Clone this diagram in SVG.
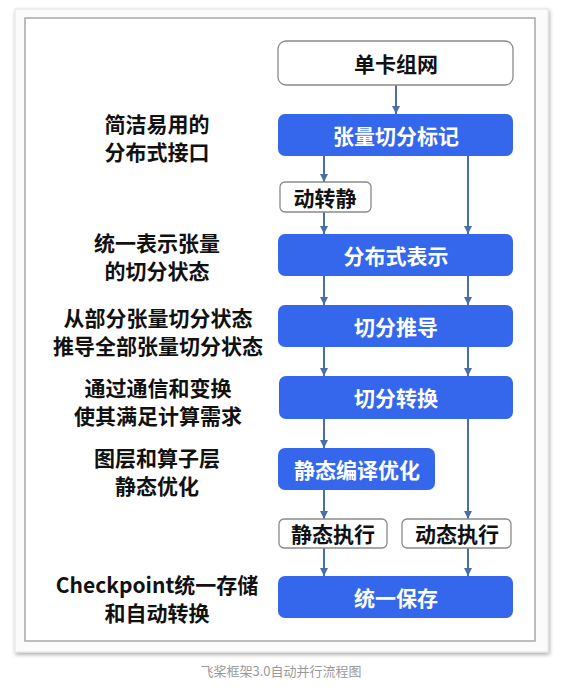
<svg xmlns="http://www.w3.org/2000/svg" width="564" height="690" viewBox="0 0 564 690">
<defs>
<filter id="sh" x="-5%" y="-5%" width="110%" height="110%">
<feGaussianBlur in="SourceAlpha" stdDeviation="2"/>
<feOffset dx="1" dy="2"/>
<feComponentTransfer><feFuncA type="linear" slope="0.35"/></feComponentTransfer>
<feMerge><feMergeNode/><feMergeNode in="SourceGraphic"/></feMerge>
</filter>
<marker id="ah" viewBox="0 0 10 10" refX="10" refY="5" markerWidth="4" markerHeight="4" orient="auto" markerUnits="strokeWidth">
<path d="M0,0 L10,5 L0,10 z" fill="#4a6fa8"/>
</marker>
</defs>
<style>
.lbl{font-family:"Noto Sans CJK SC","Noto Sans",sans-serif;font-weight:bold;font-size:21px;text-anchor:middle;dominant-baseline:central;fill:#111}
.wt{fill:#fff}
.blue{fill:#3467ec}
.white{fill:#fff;stroke:#8a8a8a;stroke-width:1.3}
.cn line{stroke:#4a6fa8;stroke-width:2;marker-end:url(#ah)}
.cap{font-family:"Noto Sans CJK SC","Noto Sans",sans-serif;font-size:13px;text-anchor:middle;dominant-baseline:central;fill:#999}
</style>
<rect width="564" height="690" fill="#fff"/>
<rect x="15" y="9" width="533" height="643" fill="#fbfbfb" stroke="#e4e4e4" stroke-width="1" filter="url(#sh)"/>
<rect x="25" y="18" width="510" height="623" fill="#fff" stroke="#a8a8a8" stroke-width="1.5"/>

<g id="labels">
<text class="lbl" x="157" y="123">简洁易用的</text>
<text class="lbl" x="157" y="151">分布式接口</text>
<text class="lbl" x="157" y="242">统一表示张量</text>
<text class="lbl" x="157" y="270">的切分状态</text>
<text class="lbl" x="158" y="317">从部分张量切分状态</text>
<text class="lbl" x="158" y="345">推导全部张量切分状态</text>
<text class="lbl" x="158" y="387">通过通信和变换</text>
<text class="lbl" x="158" y="415">使其满足计算需求</text>
<text class="lbl" x="157" y="457">图层和算子层</text>
<text class="lbl" x="157" y="485">静态优化</text>
<text class="lbl" x="157" y="584">Checkpoint统一存储</text>
<text class="lbl" x="157" y="612">和自动转换</text>
</g>

<g class="cn" id="connectors">
<line x1="396" y1="85" x2="396" y2="114"/>
<line x1="324" y1="156" x2="324" y2="182"/>
<line x1="324" y1="212" x2="324" y2="234"/>
<line x1="468" y1="156" x2="468" y2="234"/>
<line x1="324" y1="276" x2="324" y2="305"/>
<line x1="468" y1="276" x2="468" y2="305"/>
<line x1="324" y1="347" x2="324" y2="376"/>
<line x1="468" y1="347" x2="468" y2="376"/>
<line x1="324" y1="419" x2="324" y2="448"/>
<line x1="468" y1="419" x2="468" y2="519"/>
<line x1="324" y1="490" x2="324" y2="519"/>
<line x1="324" y1="548" x2="324" y2="576"/>
<line x1="468" y1="548" x2="468" y2="576"/>
</g>

<g id="n1"><rect class="white" x="278" y="41" width="235" height="44" rx="8"/><text class="lbl" x="396" y="63">单卡组网</text></g>
<g id="n2"><rect class="blue" x="278" y="114" width="235" height="42" rx="7"/><text class="lbl wt" x="396" y="135">张量切分标记</text></g>
<g id="n3"><rect class="white" x="280" y="182" width="91" height="30" rx="5"/><text class="lbl" x="325" y="197">动转静</text></g>
<g id="n4"><rect class="blue" x="278" y="234" width="235" height="42" rx="7"/><text class="lbl wt" x="396" y="255">分布式表示</text></g>
<g id="n5"><rect class="blue" x="278" y="305" width="235" height="42" rx="7"/><text class="lbl wt" x="396" y="326">切分推导</text></g>
<g id="n6"><rect class="blue" x="279" y="376" width="234" height="43" rx="7"/><text class="lbl wt" x="396" y="397">切分转换</text></g>
<g id="n7"><rect class="blue" x="278" y="448" width="157" height="42" rx="7"/><text class="lbl wt" x="357" y="469">静态编译优化</text></g>
<g id="n8"><rect class="white" x="279" y="519" width="108" height="29" rx="5"/><text class="lbl" x="333" y="533">静态执行</text></g>
<g id="n9"><rect class="white" x="402" y="519" width="109" height="29" rx="5"/><text class="lbl" x="457" y="533">动态执行</text></g>
<g id="n10"><rect class="blue" x="278" y="576" width="235" height="42" rx="7"/><text class="lbl wt" x="396" y="597">统一保存</text></g>

<text class="cap" x="281" y="670">飞桨框架3.0自动并行流程图</text>
</svg>
